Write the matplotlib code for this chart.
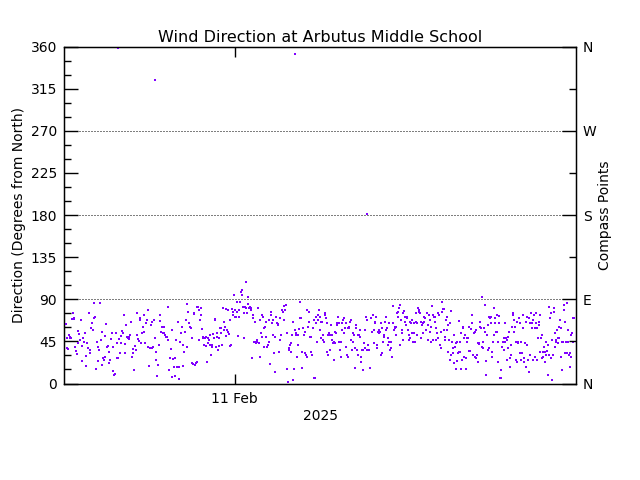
import numpy as np
import matplotlib
matplotlib.use("Agg")
import matplotlib.pyplot as plt

# ---- data (hours since 10 Feb 2025 16:00, wind direction in degrees) ----
seg1_hours = (0.08, 5.86)
seg1_dir = [63.9, 38.3, 48.2, 36.8, 51.8, 49.3, 48.2, 48.9, 68.5, 74.9, 68.5, 70.3, 39.3, 34.7, 31.1, 42.9,
            56.0, 52.8, 46.4, 67.8, 40.4, 24.0, 48.2, 44.7, 53.6, 29.4, 18.7, 42.9, 38.3, 75.6, 32.9, 35.8,
            59.6, 64.2, 57.1, 69.6, 85.6, 71.4, 15.5, 44.7, 39.3, 24.0, 35.8, 85.6, 46.4, 55.3, 19.7, 26.9,
            25.1, 50.7, 28.6, 63.2, 39.3, 40.0, 34.0, 21.5, 25.1, 47.1, 53.6, 13.7, 39.3, 9.1, 10.1, 53.6,
            42.9, 26.9, 27.6, 47.1, 32.2, 42.9, 51.1, 56.4, 53.6, 73.1, 32.2, 41.8, 62.5, 50.0, 48.2, 47.1,
            50.0, 51.8, 66.0, 27.9, 36.8, 32.9, 14.4, 40.0, 35.8, 74.9, 51.8, 47.1, 45.4, 67.8, 69.6, 42.9,
            54.3, 60.7, 55.3, 73.1, 42.9, 64.2, 67.8, 78.5, 39.3, 18.7, 37.5, 62.5, 66.0, 37.5, 39.3, 67.8,
            48.2, 34.0, 25.1, 8.4, 19.7, 41.1, 73.1, 67.1, 55.3, 60.7, 53.6, 60.7, 53.6, 51.8, 49.3, 50.0,
            46.4, 81.3, 14.4, 26.9, 36.8, 57.1, 6.6, 26.2, 18.0, 26.9, 8.0, 46.4, 18.0, 66.0, 18.0, 4.8,
            44.7, 54.3, 60.7, 41.1, 18.7, 34.0, 55.3, 67.8, 39.3, 84.9, 76.7, 64.2]
seg2_hours = (5.92, 11.73)
seg2_dir = [60.6, 59.6, 21.5, 48.2, 20.4, 73.8, 74.9, 19.7, 21.5, 82.0, 23.3, 82.0, 46.4, 78.4, 67.8, 80.9,
            73.1, 57.8, 48.2, 50.0, 41.1, 48.9, 50.0, 40.0, 23.3, 48.2, 42.8, 46.4, 41.1, 51.7, 30.4, 39.3,
            41.1, 52.4, 48.2, 67.8, 68.5, 39.3, 50.0, 53.5, 35.7, 40.3, 48.2, 58.9, 53.5, 59.6, 41.1, 80.2,
            66.0, 57.1, 60.6, 79.1, 50.7, 57.1, 78.4, 55.3, 52.4, 67.8, 40.0, 41.1, 79.1, 75.9, 73.1, 94.5,
            71.3, 78.4, 71.3, 76.6, 87.3, 50.7, 71.3, 78.4, 87.3, 98.0, 99.8, 94.5, 82.0, 74.9, 48.2, 82.0,
            80.2, 108.7, 74.9, 84.5, 92.7, 80.2, 82.0, 78.4, 80.2, 26.8, 69.5, 73.1, 44.6, 44.6, 66.0, 42.8,
            44.6, 46.4, 80.2, 42.8, 28.6, 67.8, 53.5, 73.1, 50.0, 71.3, 39.3, 58.9, 60.6, 50.0, 66.0, 39.3,
            41.1, 44.6, 67.8, 20.4, 76.6, 73.1, 64.2, 67.8, 51.7, 32.2, 12.6, 50.0, 71.3, 64.2, 63.1, 62.4,
            34.0, 69.5, 46.4, 51.7, 78.4, 78.4, 76.6, 83.1, 67.8, 78.4, 83.8, 53.5, 15.1, 1.9, 35.7, 37.5,
            41.1, 42.8, 34.0, 51.7, 3.7, 66.0, 15.1, 57.1, 51.7, 53.5, 28.6, 41.1, 51.7, 58.1, 69.5, 87.3,
            70.2, 16.1, 34.0, 58.9, 51.7, 54.6, 32.2, 30.4, 28.6, 78.4, 60.6, 66.0, 76.6, 50.0, 50.0, 34.0,
            30.4, 58.9, 5.5, 67.8]
seg3_hours = (11.77, 17.58)
seg3_dir = [6.2, 64.2, 71.4, 44.7, 67.8, 73.1, 78.5, 71.4, 57.1, 66.0, 48.2, 66.0, 46.4, 51.8, 44.7, 74.9,
            73.1, 69.6, 64.2, 34.0, 30.4, 51.8, 53.6, 51.8, 35.8, 62.5, 46.4, 51.8, 42.9, 44.7, 25.1, 55.3,
            42.9, 53.6, 64.2, 62.5, 71.4, 44.7, 64.2, 35.8, 44.7, 28.6, 64.2, 57.1, 67.8, 69.6, 53.6, 58.9,
            39.3, 64.2, 30.4, 27.9, 58.9, 60.7, 58.9, 66.0, 46.4, 67.8, 35.8, 53.6, 44.7, 51.8, 16.2, 37.5,
            58.9, 62.5, 35.8, 30.4, 51.8, 51.8, 57.1, 50.0, 28.6, 23.3, 35.8, 35.8, 14.4, 42.9, 57.1, 37.5,
            71.4, 67.8, 35.8, 41.1, 35.8, 35.8, 16.2, 16.9, 69.6, 55.3, 55.3, 73.1, 42.9, 57.1, 64.2, 66.0,
            71.4, 37.5, 41.1, 55.3, 54.3, 57.1, 55.3, 64.2, 30.4, 32.2, 58.9, 44.7, 51.8, 50.0, 66.0, 71.4,
            57.1, 58.9, 48.2, 41.1, 64.2, 44.7, 35.8, 37.5, 44.7, 27.9, 82.7, 64.2, 57.1, 58.9, 60.7, 51.8,
            60.7, 74.9, 71.4, 76.7, 80.3, 41.1, 83.8, 67.8, 53.6, 57.1, 46.4, 74.9, 77.8, 66.0, 71.4, 62.5,
            71.4, 69.6, 57.1, 51.8, 46.4, 48.2, 66.0, 64.2, 53.6, 67.8, 44.7, 53.6, 64.2, 44.7, 66.0, 74.9,
            51.8, 64.2, 80.3, 78.5, 76.7, 75.6, 66.0, 48.2, 62.5, 53.6, 64.2, 66.0, 71.4, 69.6, 57.1, 57.1,
            74.9, 62.5, 46.4, 73.1, 67.8, 55.3, 60.7, 44.7, 82.7, 73.1, 46.4, 71.4, 66.0, 71.4, 46.4, 58.9,
            53.6, 48.2, 74.9, 73.1]
seg4_hours = (17.63, 23.92)
seg4_dir = [41.1, 55.3, 37.5, 87.4, 76.7, 79.5, 57.1, 79.2, 46.4, 50.0, 67.8, 57.1, 71.4, 34.0, 62.5, 46.4,
            64.2, 25.1, 30.4, 77.8, 44.7, 37.5, 32.9, 51.8, 21.5, 39.3, 42.9, 15.5, 24.4, 44.7, 32.2, 34.0,
            66.7, 44.7, 34.0, 15.5, 53.6, 25.1, 58.9, 60.7, 48.2, 27.9, 51.8, 15.5, 26.9, 48.2, 44.7, 48.2,
            35.0, 60.7, 34.7, 35.0, 57.8, 73.1, 64.2, 30.4, 30.4, 53.6, 55.3, 28.6, 26.9, 57.1, 30.4, 23.3,
            42.9, 41.8, 42.9, 66.0, 60.7, 58.9, 39.3, 92.7, 44.7, 37.5, 58.9, 83.8, 55.3, 24.0, 9.1, 51.8,
            35.8, 62.5, 37.5, 70.6, 69.6, 71.4, 64.2, 28.6, 34.0, 44.7, 51.8, 80.3, 64.2, 69.6, 55.3, 55.3,
            73.1, 44.7, 23.3, 72.1, 64.2, 5.5, 14.4, 5.5, 39.3, 39.3, 44.7, 48.2, 35.8, 44.7, 64.2, 48.2,
            46.4, 25.1, 37.5, 50.0, 55.3, 18.0, 26.9, 41.1, 30.4, 60.7, 74.9, 73.1, 67.8, 55.3, 60.7, 25.1,
            44.7, 23.3, 66.0, 44.7, 42.9, 69.6, 32.2, 64.2, 44.7, 25.1, 32.2, 73.1, 58.9, 26.9, 23.3, 42.9,
            66.0, 18.0, 41.1, 71.4, 25.1, 12.6, 69.6, 64.2, 30.4, 74.9, 64.2, 58.9, 25.1, 67.8, 73.1, 28.6,
            58.9, 64.2, 74.9, 25.1, 58.9, 48.2, 62.5, 66.0, 73.1, 34.0, 48.2, 51.8, 26.9, 34.0, 28.6, 39.3,
            34.0, 23.3, 30.4, 44.7, 35.0, 41.1, 9.1, 82.0, 30.4, 69.6, 74.9, 26.9, 46.4, 3.7, 30.4, 80.3,
            76.7, 39.3, 53.6, 44.7, 46.4, 57.1, 48.2, 42.9, 48.2, 60.7, 67.8, 28.6, 58.9, 44.7, 14.4, 44.7,
            83.8, 78.5, 66.0, 32.2, 44.7, 32.2, 85.6, 57.1, 44.7, 30.4, 32.2, 18.0, 28.6, 51.8, 53.6, 44.7,
            69.6, 70.3, 70.3]
outlier_hours = [2.52, 4.25, 10.83, 14.22]
outlier_dir = [358.2, 324.0, 351.8, 181.3]

x_range = (0.0, 24.0)
x_tick_hours = [8.0]
x_tick_labels = ["11 Feb"]
y_ticks = [0, 45, 90, 135, 180, 225, 270, 315, 360]
compass_ticks = [0, 90, 180, 270, 360]
compass_labels = ["N", "E", "S", "W", "N"]
grid_levels = [90, 180, 270]

# ---- assemble ----
hours = []
dirs = []
for (h0, h1), vals in [(seg1_hours, seg1_dir), (seg2_hours, seg2_dir),
                       (seg3_hours, seg3_dir), (seg4_hours, seg4_dir)]:
    hours.append(np.linspace(h0, h1, len(vals)))
    dirs.append(np.array(vals))
hours.append(np.array(outlier_hours))
dirs.append(np.array(outlier_dir))
hours = np.concatenate(hours)
dirs = np.concatenate(dirs)

plt.rcParams['font.family'] = ['DejaVu Sans']
fig = plt.figure(figsize=(6.4, 4.8), dpi=100)
ax = fig.add_axes([0.1, 0.201, 0.8, 0.702])
color = '#8000ff'
ax.scatter(hours, dirs, s=2.6, marker='s', color=color, linewidths=0, zorder=3)

for g in grid_levels:
    ax.axhline(g, color='black', lw=0.72, linestyle=(0, (1, 2)), zorder=2)

ax.set_xlim(*x_range)
ax.set_ylim(0, 360)
ax.set_yticks(y_ticks)
ax.set_yticks(np.arange(0, 361, 15), minor=True)
ax.set_xticks(x_tick_hours)
ax.set_xticklabels(x_tick_labels)
ax.tick_params(axis='y', which='major', direction='in', length=10, width=1, labelsize=10, pad=5)
ax.tick_params(axis='y', which='minor', direction='in', length=5, width=1)
ax.tick_params(axis='x', which='major', direction='in', length=7, width=1, top=True, labelsize=10, pad=6)
for sp in ax.spines.values():
    sp.set_linewidth(1)

ax.set_xlabel("2025", fontsize=10, labelpad=2)
ax.set_ylabel("Direction (Degrees from North)", fontsize=10, labelpad=3)
ax.set_title("Wind Direction at Arbutus Middle School", fontsize=11.5, pad=3)

ax2 = ax.twinx()
ax2.set_ylim(0, 360)
ax2.set_yticks(compass_ticks)
ax2.set_yticklabels(compass_labels)
ax2.set_yticks([45, 135, 225, 315], minor=True)
ax2.tick_params(axis='y', which='major', direction='in', length=10, width=1, labelsize=10, pad=5)
ax2.tick_params(axis='y', which='minor', direction='in', length=5, width=1)
ax2.set_ylabel("Compass Points", fontsize=10, labelpad=1)

fig.savefig("out.png", dpi=100)
